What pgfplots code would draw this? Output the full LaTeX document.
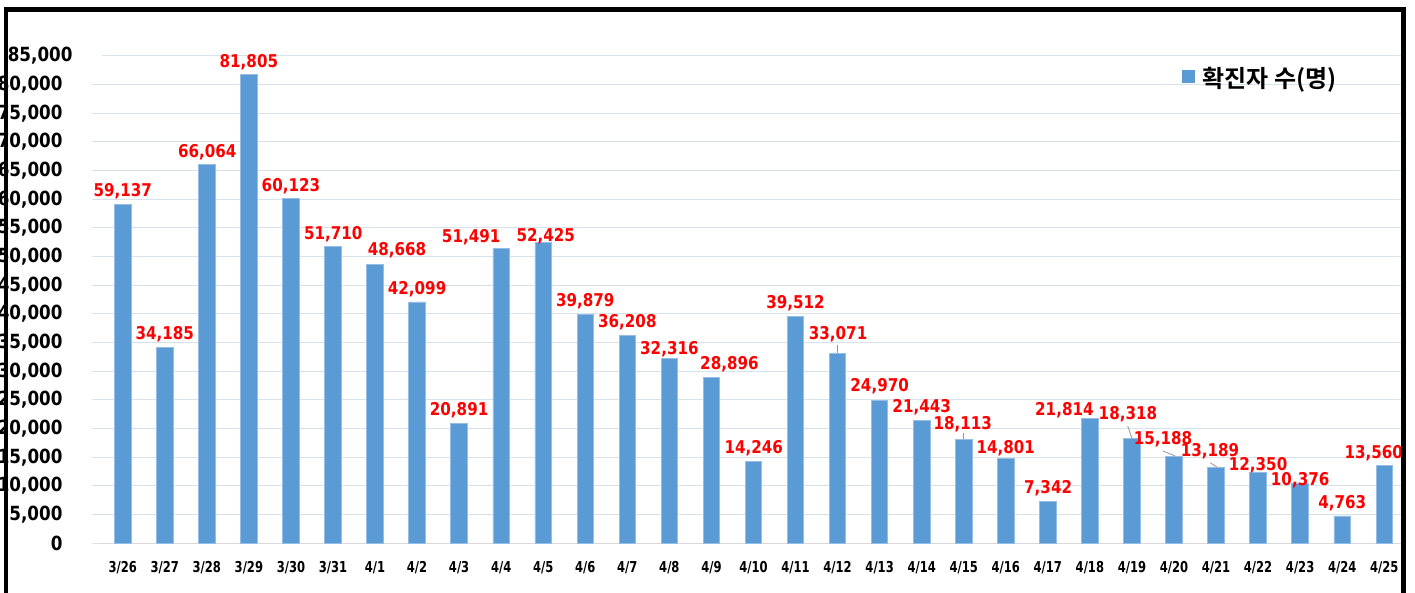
\documentclass[border=0pt]{standalone}
\usepackage{pgfplots}
\pgfplotsset{compat=1.18}
\usepackage{pgfplotstable}
\usepackage{fontspec}
\newfontfamily\numfont{DejaVu Sans Bold}[FakeStretch=0.86]
\newfontfamily\xfont{DejaVu Sans Bold}[FakeStretch=0.77]
\newfontfamily\kofont{Noto Sans CJK KR Bold}
\definecolor{barblue}{RGB}{91,155,213}
\definecolor{baredge}{RGB}{150,190,228}
\definecolor{gridc}{RGB}{214,227,237}
\definecolor{axisc}{RGB}{217,217,217}
\definecolor{lblred}{RGB}{255,0,0}
\definecolor{leadc}{RGB}{150,150,150}
\pgfplotstableread{
x y dx dy
0 59137 0 8.15
1 34185 0 7.65
2 66064 0.4 7.45
3 81805 0 7.15
4 60123 0 7.3
5 51710 0.3 7.65
6 48668 22 8.35
7 42099 0 7.65
8 20891 0 7.65
9 51491 -30 5.65
10 52425 2.5 1.45
11 39879 0 7.85
12 36208 0 7.95
13 32316 0 3.15
14 28896 18 8.25
15 14246 0.3 8.45
16 39512 0 7.95
17 33071 0.5 14.65
18 24970 0 8.65
19 21443 0 7.65
20 18113 -1 10.35
21 14801 0 4.85
22 7342 0.3 7.55
23 21814 -25.5 2.95
24 18318 -4 18.95
25 15188 -11 12.05
26 13189 -6 11.45
27 12350 0 1.65
28 10376 0 -1.35
29 4763 0 7.65
30 13560 -10.5 6.85
}\datatab
\begin{document}
\begin{tikzpicture}[x=1pt,y=1pt]
\useasboundingbox (0,0) rectangle (1415,593);
\begin{axis}[
  at={(101.7pt,49.7pt)}, anchor=south west, scale only axis,
  width=1303.6pt, height=487.3pt,
  xmin=-0.5, xmax=30.5, ymin=0, ymax=85000,
  axis x line*=bottom, axis y line*=left,
  x axis line style={draw=axisc, line width=1pt},
  y axis line style={draw=none},
  xtick={0,...,30},
  xticklabels={3/26,3/27,3/28,3/29,3/30,3/31,4/1,4/2,4/3,4/4,4/5,4/6,4/7,4/8,4/9,4/10,4/11,4/12,4/13,4/14,4/15,4/16,4/17,4/18,4/19,4/20,4/21,4/22,4/23,4/24,4/25},
  x tick style={draw=none},
  extra x ticks={-0.5,0.5,...,30.5},
  extra x tick labels={},
  extra x tick style={grid=none, tick style={draw=axisc, line width=1pt}, major tick length=6pt},
  ytick={0,5000,...,80000},
  extra y ticks={85000},
  extra y tick style={major tick length=0pt},
  y tick style={draw=gridc, line width=1pt},
  major tick length=10pt,
  tick align=outside,
  ymajorgrids, grid style={draw=gridc, line width=1pt},
  scaled y ticks=false,
  /pgf/number format/1000 sep={,},
  /pgf/number format/assume math mode=true,
  yticklabel style={font=\numfont\fontsize{19.5}{19.5}\selectfont, anchor=east, inner sep=0pt, xshift=-29pt},
  xticklabel style={font=\xfont\fontsize{15}{15}\selectfont, anchor=base, inner sep=0pt, yshift=-19pt},
  legend style={draw=none, fill=none, inner sep=0pt, outer sep=0pt,
    at={(0.8285,0.9548)}, anchor=west,
    font=\kofont\fontsize{24}{24}\selectfont,
    nodes={inner sep=0pt},
    /tikz/every odd column/.style={column sep=7.7pt}},
]
\addplot[ybar, bar width=16.5pt, fill=barblue, draw=baredge, line width=0.8pt,
  legend image code/.code={\fill[barblue] (0pt,-4.3pt) rectangle (12.3pt,8pt);},
  nodes near coords,
  visualization depends on={\thisrow{dx}\as\dx},
  visualization depends on={\thisrow{dy}\as\dy},
  every node near coord/.append style={font=\numfont\fontsize{17.6}{17.6}\selectfont,
     text=lblred, anchor=base, inner sep=0pt, xshift=\dx pt, yshift=\dy pt},
] table[x=x,y=y] {\datatab};
\addlegendentry{확진자 수(명)}
\addplot[leadc, line width=0.8pt, forget plot, no marks] coordinates {(17,34590) (17,33195)};
\addplot[leadc, line width=0.8pt, forget plot, no marks] coordinates {(20,19240) (20,18193)};
\addplot[leadc, line width=0.8pt, forget plot, no marks] coordinates {(23.9,20461) (24,18315)};
\addplot[leadc, line width=0.8pt, forget plot, no marks] coordinates {(24.74,16100) (25.03,15228)};
\addplot[leadc, line width=0.8pt, forget plot, no marks] coordinates {(25.86,14059) (26.02,13309)};
\end{axis}
\draw[line width=4.5pt] (6.2,-20) -- (6.2,583.3) -- (1403.3,583.3) -- (1403.3,-20);
\end{tikzpicture}
\end{document}
